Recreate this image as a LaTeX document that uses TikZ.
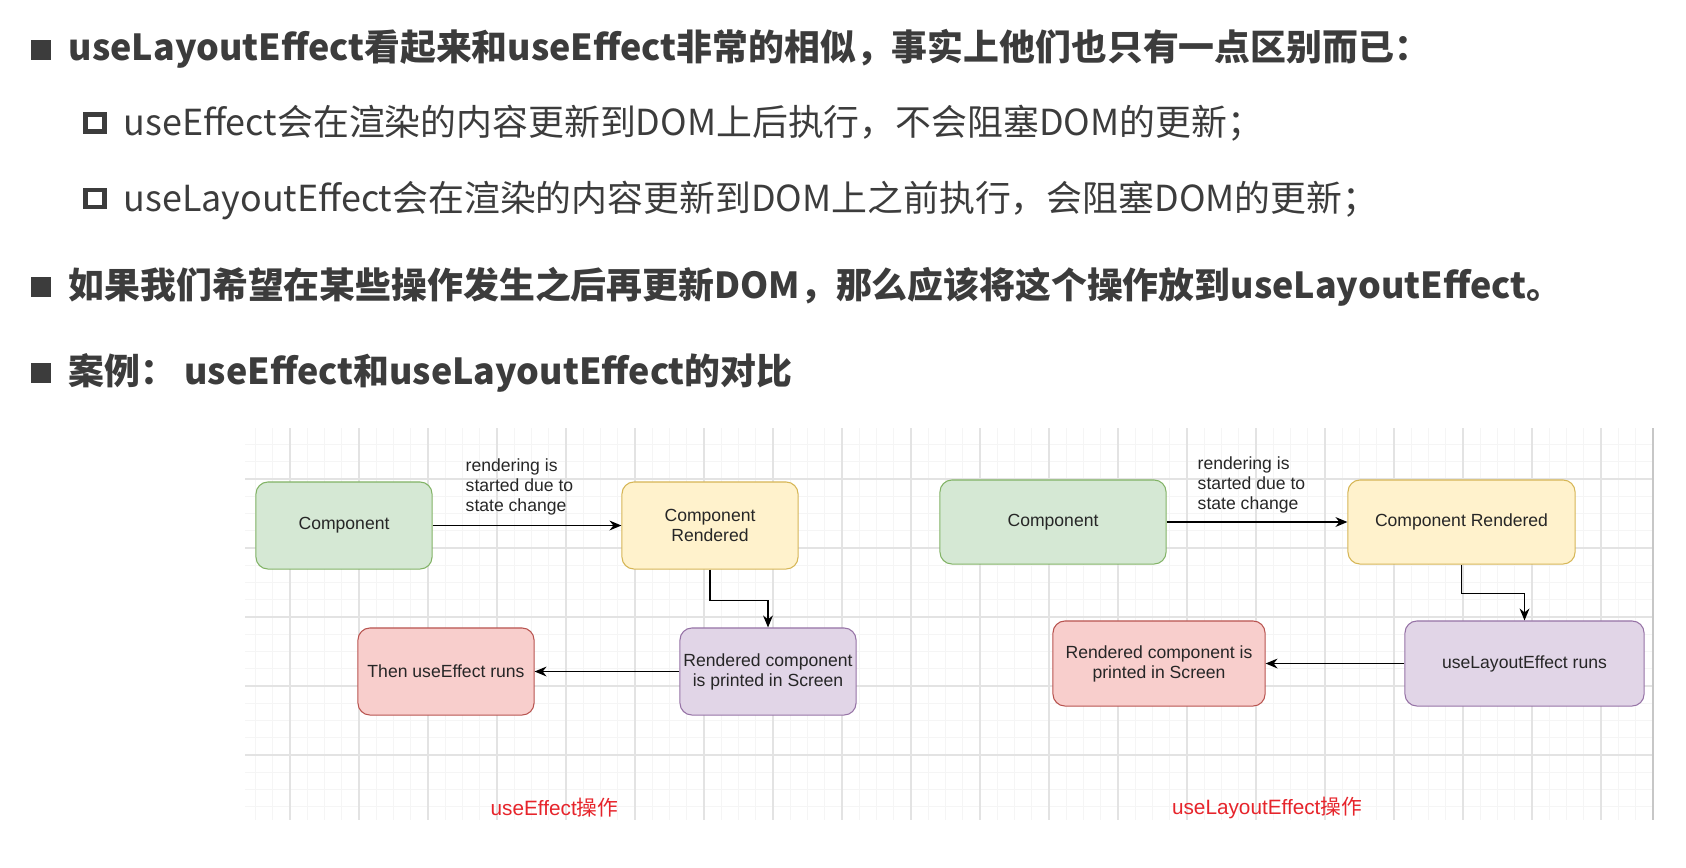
\documentclass[tikz,border=0pt]{standalone}
\usepackage{fontspec}
\setmainfont{Noto Sans CJK SC}
\newfontfamily\diafont{Liberation Sans}
\newfontfamily\cjkfont{Noto Sans CJK SC}
\usetikzlibrary{arrows.meta}
\definecolor{txt}{HTML}{3C3C3C}
\definecolor{gfill}{HTML}{D5E8D4}\definecolor{gline}{HTML}{82B366}
\definecolor{yfill}{HTML}{FFF2CC}\definecolor{yline}{HTML}{D6B656}
\definecolor{pfill}{HTML}{E1D5E7}\definecolor{pline}{HTML}{9673A6}
\definecolor{rfill}{HTML}{F8CECC}\definecolor{rline}{HTML}{B85450}
\definecolor{tagred}{HTML}{E6242B}
\begin{document}
\begin{tikzpicture}[x=0.01cm,y=-0.01cm,->,>={Stealth[length=3.4pt,width=2.8pt]},
  head/.style={font=\bfseries\fontsize{10.2}{12}\selectfont,text=txt,inner sep=0,anchor=base west},
  sub/.style={font=\fontsize{10.2}{12}\selectfont,text=txt,inner sep=0,anchor=base west},
  bul/.style={fill=txt,minimum width=0.2cm,minimum height=0.19cm,inner sep=0},
  hbul/.style={draw=txt,line width=1.4pt,minimum width=0.19cm,minimum height=0.17cm,inner sep=0},
  box/.style={draw,rounded corners=0.12cm,line width=0.3pt,minimum width=1.76cm,minimum height=0.87cm,
    inner sep=0,align=center,text=black!85,font=\diafont\fontsize{5}{5.7}\selectfont},
  gbox/.style={box,fill=gfill,draw=gline},
  ybox/.style={box,fill=yfill,draw=yline},
  pbox/.style={box,fill=pfill,draw=pline},
  rbox/.style={box,fill=rfill,draw=rline},
  note/.style={inner sep=0,align=left,anchor=south west,text=black!85,font=\diafont\fontsize{5}{5.7}\selectfont},
  tag/.style={inner sep=0,text=tagred,font=\diafont\fontsize{5.9}{7}\selectfont},
  minor/.style={-,draw=black!4,line width=0.25pt},
  major/.style={-,draw=black!11,line width=0.35pt}]
\useasboundingbox (0,0) rectangle (1686,867);
\begin{scope}
\clip (245,428) rectangle (1654,820);
\foreach \i in {0,...,81} \draw[minor] ({255.5+17.25*\i},428) -- ++(0,392);
\foreach \j in {0,...,21} \draw[minor] (245,{444.5+17.25*\j}) -- ++(1409,0);
\foreach \i in {0,...,19} \draw[major] ({290+69*\i},428) -- ++(0,392);
\foreach \j in {0,...,4} \draw[major] (245,{479+69*\j}) -- ++(1409,0);
\end{scope}
\draw[major,draw=black!22] (1653,428) -- (1653,820);

\node[bul] (b1) at (41,50) {};
\node[head] (t1) at (68,61) {useLayoutEffect看起来和useEffect非常的相似，事实上他们也只有一点区别而已：};
\node[hbul] (b2) at (95,123) {};
\node[sub] (t2) at (123,136) {useEffect会在渲染的内容更新到DOM上后执行，不会阻塞DOM的更新；};
\node[hbul] (b3) at (95,198.5) {};
\node[sub] (t3) at (123,211) {useLayoutEffect会在渲染的内容更新到DOM上之前执行，会阻塞DOM的更新；};
\node[bul] (b4) at (41,287) {};
\node[head] (t4) at (68,298) {如果我们希望在某些操作发生之后再更新DOM，那么应该将这个操作放到useLayoutEffect。};
\node[bul] (b5) at (41,373) {};
\node[head] (t5) at (68,384) {案例：\ useEffect和useLayoutEffect的对比};

\node[gbox] (comp1) at (344,525.5) {Component};
\node[ybox] (rend1) at (710,525.5) {Component\\Rendered};
\node[pbox] (print1) at (768,671.5) {Rendered component\\is printed in Screen};
\node[rbox] (run1) at (446,671.5) {Then useEffect runs};
\node[note] (why1) at (465,516) {rendering is\\started due to\\state change};
\draw (comp1) -- (rend1);
\draw (rend1.south) -- ++(0,31) -| (print1.north);
\draw (print1) -- (run1);
\node[tag] (tag1) at (554.5,808) {useEffect\cjkfont 操作};

\node[gbox,minimum width=2.26cm,minimum height=0.84cm] (comp2) at (1053,522) {Component};
\node[ybox,minimum width=2.27cm,minimum height=0.84cm] (rend2) at (1461.5,522) {Component Rendered};
\node[pbox,minimum width=2.39cm,minimum height=0.85cm] (run2) at (1524.5,663.5) {useLayoutEffect runs};
\node[rbox,minimum width=2.12cm,minimum height=0.85cm] (print2) at (1159,663.5) {Rendered component is\\printed in Screen};
\node[note] (why2) at (1197,514) {rendering is\\started due to\\state change};
\draw (comp2) -- (rend2);
\draw (rend2.south) -- ++(0,29) -| (run2.north);
\draw (run2) -- (print2);
\node[tag] (tag2) at (1267,808) {useLayoutEffect\cjkfont 操作};
\end{tikzpicture}
\end{document}
